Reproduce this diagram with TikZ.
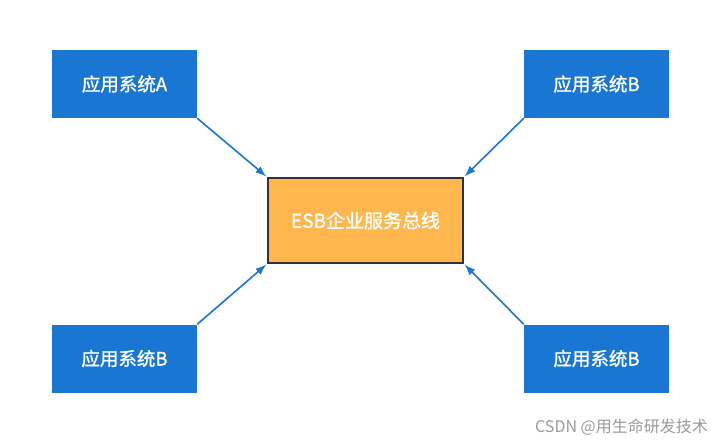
\documentclass[tikz,border=0pt]{standalone}
\usepackage{fontspec}
\setmainfont{Noto Sans CJK SC}
\newfontfamily\boxfont[FakeBold=1.3]{Noto Sans CJK SC}
\usetikzlibrary{arrows.meta}
\definecolor{appblue}{HTML}{1976D2}
\definecolor{esborange}{HTML}{FFB74D}
\definecolor{esbline}{HTML}{333333}
\tikzset{
  appbox/.style={fill=appblue,text=white,minimum width=145pt,minimum height=68pt,inner sep=0pt,font=\boxfont\fontsize{18.5}{21}\selectfont},
  esbbox/.style={fill=esborange,draw=esbline,line width=1.6pt,text=white,minimum width=195pt,minimum height=85pt,inner sep=0pt,font=\boxfont\fontsize{19}{22}\selectfont},
  link/.style={-{Latex[length=11pt,width=8pt]},appblue,line width=1.6pt,shorten >=1pt}
}
\begin{document}
\begin{tikzpicture}[x=1pt,y=-1pt]
      \useasboundingbox (0,0) rectangle (722,446);
      \node[appbox] (appA) at (124.5,84) {应用系统A};
      \node[appbox] (appB1) at (596.5,84) {应用系统B};
      \node[appbox] (appB2) at (124.5,358.5) {应用系统B};
      \node[appbox] (appB3) at (596.5,358.5) {应用系统B};
      \node[esbbox] (esb) at (365.5,220.5) {ESB企业服务总线};
      \draw[link] (appA.south east) -- (esb.north west);
      \draw[link] (appB1.south west) -- (esb.north east);
      \draw[link] (appB2.north east) -- (esb.south west);
      \draw[link] (appB3.north west) -- (esb.south east);
      \node[anchor=east,text=black!40,font=\fontsize{16}{18}\selectfont,inner sep=0pt] (mark) at (708,427) {CSDN @用生命研发技术};
   \end{tikzpicture}
\end{document}
